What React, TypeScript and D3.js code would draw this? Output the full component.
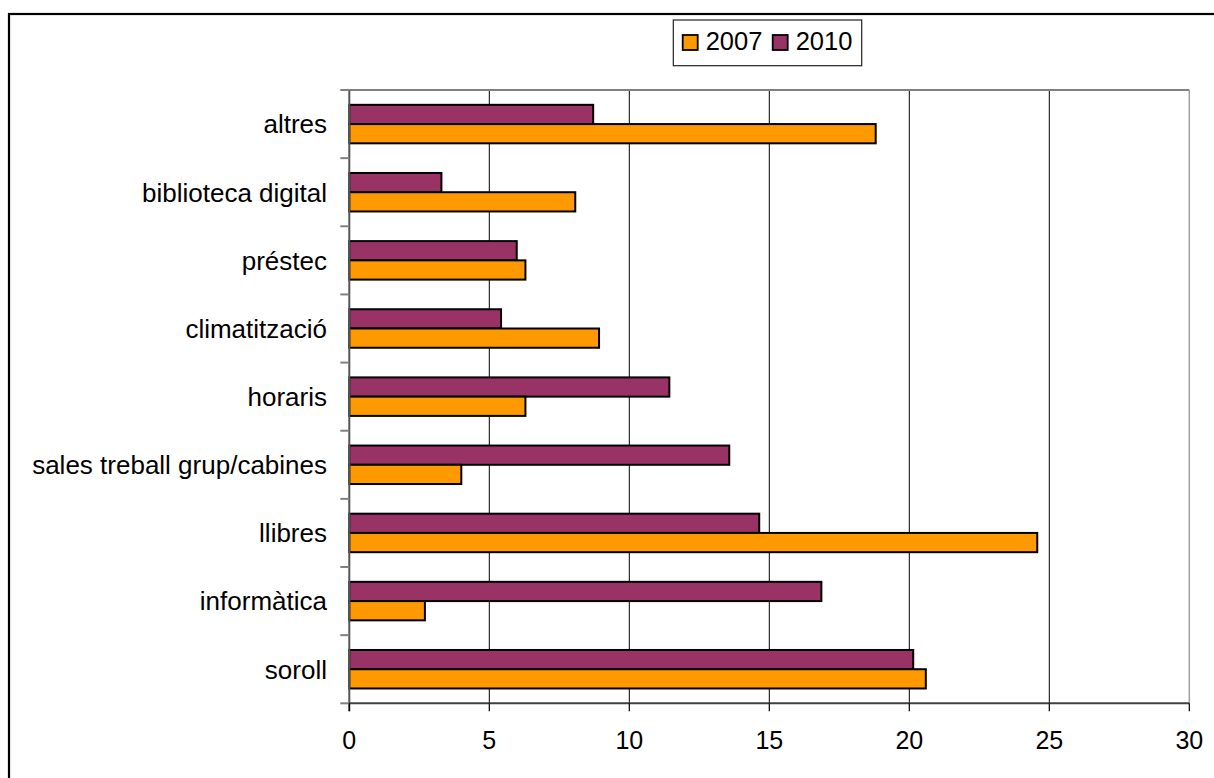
import React from "react";
import * as d3 from "d3";

const categories = [
  "altres",
  "biblioteca digital",
  "préstec",
  "climatització",
  "horaris",
  "sales treball grup/cabines",
  "llibres",
  "informàtica",
  "soroll",
];
const series = ["2010", "2007"];
const values2007 = [18.8, 8.07, 6.29, 8.92, 6.29, 4.0, 24.57, 2.7, 20.59];
const values2010 = [8.71, 3.29, 5.98, 5.42, 11.43, 13.57, 14.64, 16.86, 20.14];
const xTicks = [0, 5, 10, 15, 20, 25, 30];
const legendItems = ["2007", "2010"];
const colors: Record<string, string> = { "2007": "#FF9900", "2010": "#993366" };

const W = 1214;
const H = 778;
const plot = { left: 349.3, right: 1189.3, top: 90, bottom: 703.3 };
const FONT = "'Liberation Sans', Arial, sans-serif";

export default function App() {
  const x = d3.scaleLinear().domain([0, 30]).range([plot.left, plot.right]);
  const y = d3
    .scaleBand<string>()
    .domain(categories)
    .range([plot.top, plot.bottom])
    .paddingInner(0.435)
    .paddingOuter(0.2175);
  const ys = d3.scaleBand<string>().domain(series).range([0, y.bandwidth()]);
  const step = y.step();
  const valuesBySeries: Record<string, number[]> = { "2007": values2007, "2010": values2010 };

  return (
    <svg
      width={W}
      height={H}
      style={{ position: "absolute", left: 0, top: 0, background: "#fff" }}
      fontFamily={FONT}
    >
      <rect x={0} y={0} width={W} height={H} fill="#fff" />
      {/* outer chart border */}
      <rect x={9} y={14} width={W + 20} height={H + 20} fill="none" stroke="#000" strokeWidth={2.2} />

      {/* gridlines */}
      {xTicks.slice(1, -1).map((t) => (
        <line key={"g" + t} x1={x(t)} x2={x(t)} y1={plot.top} y2={plot.bottom} stroke="#000" strokeWidth={1} />
      ))}
      {/* plot border top/right */}
      <line x1={plot.left} x2={plot.right} y1={plot.top} y2={plot.top} stroke="#808080" strokeWidth={2} />
      <line x1={plot.right} x2={plot.right} y1={plot.top} y2={plot.bottom} stroke="#a0a0a0" strokeWidth={1.5} />

      {/* bars */}
      {categories.map((c, i) =>
        series.map((s) => (
          <rect
            key={c + s}
            x={x(0)}
            y={(y(c) as number) + (ys(s) as number)}
            width={x(valuesBySeries[s][i]) - x(0)}
            height={ys.bandwidth()}
            fill={colors[s]}
            stroke="#000"
            strokeWidth={2}
          />
        ))
      )}

      {/* y axis */}
      <line x1={plot.left} x2={plot.left} y1={plot.top} y2={plot.bottom + 8} stroke="#555" strokeWidth={2} />
      {d3.range(categories.length + 1).map((k) => (
        <line
          key={"yt" + k}
          x1={plot.left - 9}
          x2={plot.left}
          y1={plot.top + k * step}
          y2={plot.top + k * step}
          stroke="#808080"
          strokeWidth={2}
        />
      ))}
      {categories.map((c) => (
        <text
          key={"yl" + c}
          x={327}
          y={(y(c) as number) + y.bandwidth() / 2}
          dy="0.36em"
          textAnchor="end"
          fontSize={26}
          fill="#000"
        >
          {c}
        </text>
      ))}

      {/* x axis */}
      <line x1={plot.left} x2={plot.right} y1={plot.bottom} y2={plot.bottom} stroke="#404040" strokeWidth={2} />
      {xTicks.map((t) => (
        <g key={"xt" + t}>
          <line x1={x(t)} x2={x(t)} y1={plot.bottom} y2={plot.bottom + 8} stroke="#000" strokeWidth={1.2} />
          <text x={x(t)} y={749} textAnchor="middle" fontSize={25} fill="#000">
            {t}
          </text>
        </g>
      ))}

      {/* legend */}
      <rect x={673.3} y={20} width={188.4} height={45.7} fill="#fff" stroke="#222" strokeWidth={1.2} />
      {legendItems.map((s, i) => {
        const lx = 682.7 + i * 90;
        return (
          <g key={"lg" + s}>
            <rect x={lx} y={35} width={15} height={15} fill={colors[s]} stroke="#000" strokeWidth={1.8} />
            <text x={lx + 23} y={49.5} fontSize={25.5} fill="#000">
              {s}
            </text>
          </g>
        );
      })}
    </svg>
  );
}
